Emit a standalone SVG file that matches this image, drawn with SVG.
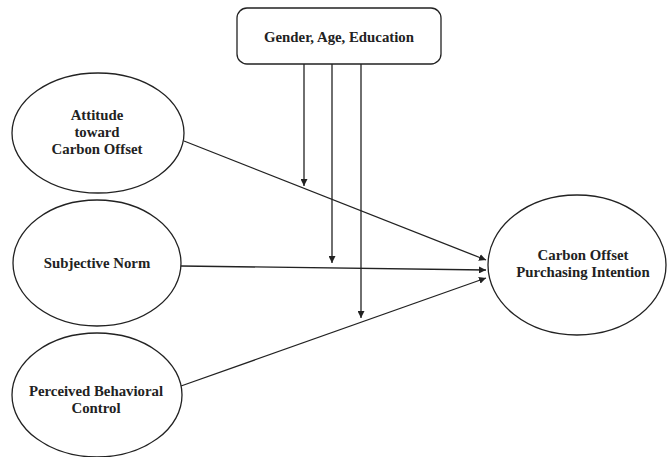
<svg xmlns="http://www.w3.org/2000/svg" width="667" height="457" viewBox="0 0 667 457">
<style>
.n{fill:#fff;stroke:#222;stroke-width:1.3}
.t{font-family:"Liberation Serif",serif;font-weight:bold;font-size:14.8px;fill:#222;text-anchor:middle}
.c{stroke:#222;stroke-width:1.3;fill:none;marker-end:url(#a)}
</style>
<defs>
<marker id="a" viewBox="0 0 10 10" refX="10" refY="5" markerWidth="7" markerHeight="7" markerUnits="userSpaceOnUse" orient="auto">
<path d="M0,0L10,5L0,10z" fill="#222"/>
</marker>
</defs>
<rect width="667" height="457" fill="#fff"/>
<g id="demo"><rect class="n" x="237" y="8" width="204" height="56" rx="10"/><text class="t" x="339" y="42">Gender, Age, Education</text></g>
<g id="attitude"><ellipse class="n" cx="98" cy="133" rx="86" ry="60"/><text class="t" x="97" y="120">Attitude</text><text class="t" x="97" y="137">toward</text><text class="t" x="97" y="154">Carbon Offset</text></g>
<g id="norm"><ellipse class="n" cx="97" cy="263" rx="84" ry="63"/><text class="t" x="97" y="268">Subjective Norm</text></g>
<g id="pbc"><ellipse class="n" cx="97" cy="395" rx="85" ry="62"/><text class="t" x="96" y="396">Perceived Behavioral</text><text class="t" x="96" y="413">Control</text></g>
<g id="intention"><ellipse class="n" cx="577" cy="265" rx="89" ry="70"/><text class="t" x="583" y="260">Carbon Offset</text><text class="t" x="583" y="277">Purchasing Intention</text></g>
<g id="connectors">
<line class="c" x1="304" y1="64" x2="304" y2="186"/>
<line class="c" x1="332" y1="64" x2="332" y2="263"/>
<line class="c" x1="361" y1="64" x2="361" y2="318"/>
<line class="c" x1="184" y1="141" x2="486" y2="260"/>
<line class="c" x1="181" y1="266" x2="486" y2="270"/>
<line class="c" x1="181" y1="386" x2="486" y2="278"/>
</g>
</svg>
